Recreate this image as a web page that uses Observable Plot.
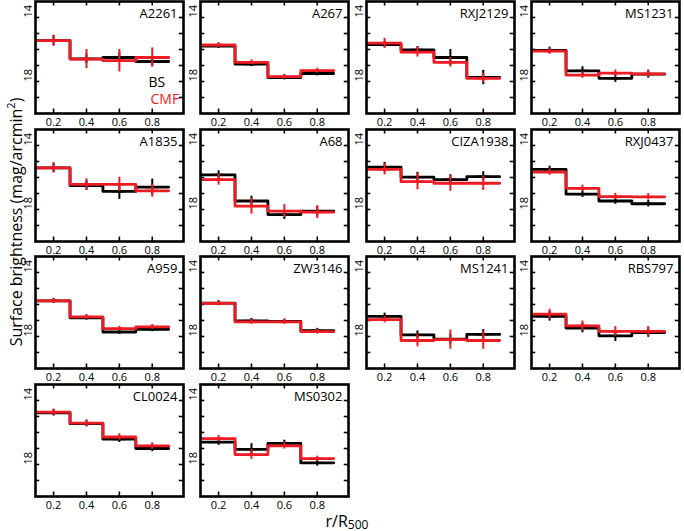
<!DOCTYPE html>
<html><head><meta charset="utf-8">
<script src="https://cdn.jsdelivr.net/npm/d3@7"></script>
<script src="https://cdn.jsdelivr.net/npm/@observablehq/plot@0.6"></script>
<style>
body{margin:0;background:#fff;}
#chart{position:relative;width:684px;height:531px;overflow:hidden;font-family:"Open Sans",sans-serif;color:#000;}
.panel{position:absolute;}
#ylab{position:absolute;left:15px;top:222px;transform:translate(-50%,-50%) rotate(-90deg);white-space:nowrap;font-size:16px;}
#xlab{position:absolute;left:347px;top:521px;transform:translate(-50%,-50%);font-size:16px;white-space:nowrap;}
#xlab sub{font-size:12px;vertical-align:-2px;}
#ylab sup{font-size:11px;}
</style></head><body>
<div id="chart">
  <div id="ylab">Surface brightness (mag/arcmin<sup>2</sup>)</div>
  <div id="xlab">r/R<sub>500</sub></div>
</div>
<script>
// ---------- data ----------
const clusters = ["A2261","A267","RXJ2129","MS1231","A1835","A68","CIZA1938","RXJ0437",
                  "A959","ZW3146","MS1241","RBS797","CL0024","MS0302"];
const binEdges = [0.1, 0.3, 0.5, 0.7, 0.9];
const binCenters = [0.2, 0.4, 0.6, 0.8];
const bsValues = [
  [15.45,16.58,16.50,16.75],
  [15.78,16.92,17.75,17.50],
  [15.70,16.02,16.50,17.75],
  [16.05,17.33,17.80,17.54],
  [15.40,16.50,16.87,16.60],
  [15.83,17.47,18.32,18.10],
  [15.36,15.98,16.13,15.94],
  [15.49,17.04,17.47,17.64],
  [15.77,16.83,17.72,17.55],
  [15.91,17.02,17.06,17.64],
  [16.74,17.90,18.16,17.87],
  [16.74,17.47,17.96,17.75],
  [14.77,15.45,16.42,17.00],
  [16.60,17.05,16.68,17.90]
];
const bsErrors = [
  [0.30,0.30,0.30,0.30],
  [0.15,0.15,0.15,0.15],
  [0.20,0.20,0.50,0.45],
  [0.20,0.25,0.25,0.25],
  [0.30,0.30,0.50,0.50],
  [0.25,0.30,0.30,0.30],
  [0.30,0.30,0.30,0.30],
  [0.20,0.20,0.20,0.20],
  [0.15,0.15,0.15,0.15],
  [0.15,0.15,0.15,0.15],
  [0.20,0.25,0.30,0.30],
  [0.30,0.30,0.35,0.30],
  [0.20,0.20,0.20,0.20],
  [0.20,0.35,0.20,0.20]
];
const cmfValues = [
  [15.45,16.60,16.70,16.50],
  [15.72,16.80,17.70,17.32],
  [15.60,16.17,16.80,17.80],
  [16.10,17.60,17.48,17.52],
  [15.40,16.43,16.43,16.83],
  [16.13,17.79,18.10,18.17],
  [15.49,16.26,16.36,16.36],
  [15.66,16.68,17.19,17.21],
  [15.77,16.77,17.51,17.40],
  [15.93,17.09,17.08,17.70],
  [16.95,18.25,18.20,18.25],
  [16.60,17.33,17.68,17.68],
  [14.73,15.41,16.28,16.84],
  [16.38,17.38,16.84,17.63]
];
const cmfErrors = [
  [0.35,0.60,0.70,0.60],
  [0.15,0.15,0.15,0.15],
  [0.30,0.30,0.30,0.30],
  [0.20,0.20,0.20,0.20],
  [0.30,0.35,0.45,0.40],
  [0.35,0.50,0.40,0.40],
  [0.35,0.50,0.50,0.45],
  [0.20,0.20,0.20,0.20],
  [0.15,0.15,0.15,0.15],
  [0.15,0.15,0.15,0.15],
  [0.20,0.40,0.60,0.55],
  [0.30,0.30,0.30,0.30],
  [0.20,0.20,0.20,0.20],
  [0.20,0.30,0.20,0.15]
];
const xTicks = [0.2, 0.4, 0.6, 0.8];
const yTickLabels = [14, 18];
const yMinorTicks = [14, 15, 16, 17, 18, 19];
const seriesNames = ["BS", "CMF"];

// ---------- layout ----------
const xDomain = [0.09, 0.99];
const yDomain = [13, 20];
const FW = 148, FH = 112, ML = 22, MR = 4, MT = 3, MB = 18;
const RED = "#ed1c24";

function steps(vals){
  return binEdges.map((x, k) => ({x, y: vals[Math.min(k, vals.length - 1)]}));
}
function pts(vals, errs){
  return binCenters.map((x, k) => ({x, y: vals[k], e: errs[k]}));
}

function panel(i){
  const bsS = steps(bsValues[i]), cmfS = steps(cmfValues[i]);
  const bsP = pts(bsValues[i], bsErrors[i]), cmfP = pts(cmfValues[i], cmfErrors[i]);
  const hw = 0.04;
  const marks = [
    Plot.ruleX(xTicks, {x: d => d, y1: 20, y2: 19.72, strokeWidth: 1.6}),
    Plot.ruleX(xTicks, {x: d => d, y1: 13, y2: 13.28, strokeWidth: 1.6}),
    Plot.ruleY(yMinorTicks, {y: d => d, x1: xDomain[0], x2: xDomain[0] + 0.026, strokeWidth: 1.6}),
    Plot.ruleY(yMinorTicks, {y: d => d, x1: xDomain[1], x2: xDomain[1] - 0.026, strokeWidth: 1.6}),
    Plot.axisX({ticks: xTicks, tickSize: 0, tickPadding: 5, label: null, tickFormat: d => d.toFixed(1)}),
    Plot.text(yTickLabels, {y: d => d, frameAnchor: "left", rotate: -90, dx: -7, text: d => String(d), fontSize: 11}),
    // BS
    Plot.line(bsS, {x: "x", y: "y", curve: "step-after", stroke: "#000", strokeWidth: 2.8}),
    Plot.ruleX(bsP, {x: "x", y1: d => d.y - d.e, y2: d => d.y + d.e, stroke: "#000", strokeWidth: 2}),
    Plot.ruleY(bsP, {y: "y", x1: d => d.x - hw, x2: d => d.x + hw, stroke: "#000", strokeWidth: 2}),
    // CMF
    Plot.line(cmfS, {x: "x", y: "y", curve: "step-after", stroke: RED, strokeWidth: 2.8}),
    Plot.ruleX(cmfP, {x: "x", y1: d => d.y - d.e, y2: d => d.y + d.e, stroke: RED, strokeWidth: 2}),
    Plot.ruleY(cmfP, {y: "y", x1: d => d.x - hw, x2: d => d.x + hw, stroke: RED, strokeWidth: 2}),
    Plot.frame({stroke: "#000", strokeWidth: 2.6}),
    Plot.text([clusters[i]], {frameAnchor: "top-right", textAnchor: "end", dx: -6, dy: 7, text: d => d, fontSize: 13})
  ];
  if (i === 0) {
    marks.push(Plot.text([seriesNames[0]], {frameAnchor: "bottom-right", textAnchor: "start", lineAnchor: "middle", dx: -35, dy: -31, text: d => d, fontSize: 14, fill: "#000"}));
    marks.push(Plot.text([seriesNames[1]], {frameAnchor: "bottom-right", textAnchor: "start", lineAnchor: "middle", dx: -33, dy: -14, text: d => d, fontSize: 14, fill: RED}));
  }
  return Plot.plot({
    width: ML + FW + MR, height: MT + FH + MB,
    marginLeft: ML, marginRight: MR, marginTop: MT, marginBottom: MB,
    style: {fontFamily: "'Open Sans', sans-serif", fontSize: "11px", background: "transparent", overflow: "visible", color: "#000"},
    x: {domain: xDomain},
    y: {domain: yDomain, reverse: true, axis: null},
    marks
  });
}

const chart = document.getElementById("chart");
clusters.forEach((name, i) => {
  const col = i % 4, row = Math.floor(i / 4);
  const frameLeft = 35 + 165.3 * col;
  const frameTop = 1 + 127.7 * row;
  const svg = panel(i);
  svg.classList.add("panel");
  svg.style.left = (frameLeft - ML) + "px";
  svg.style.top = (frameTop - MT) + "px";
  chart.appendChild(svg);
});
</script>
</body></html>
